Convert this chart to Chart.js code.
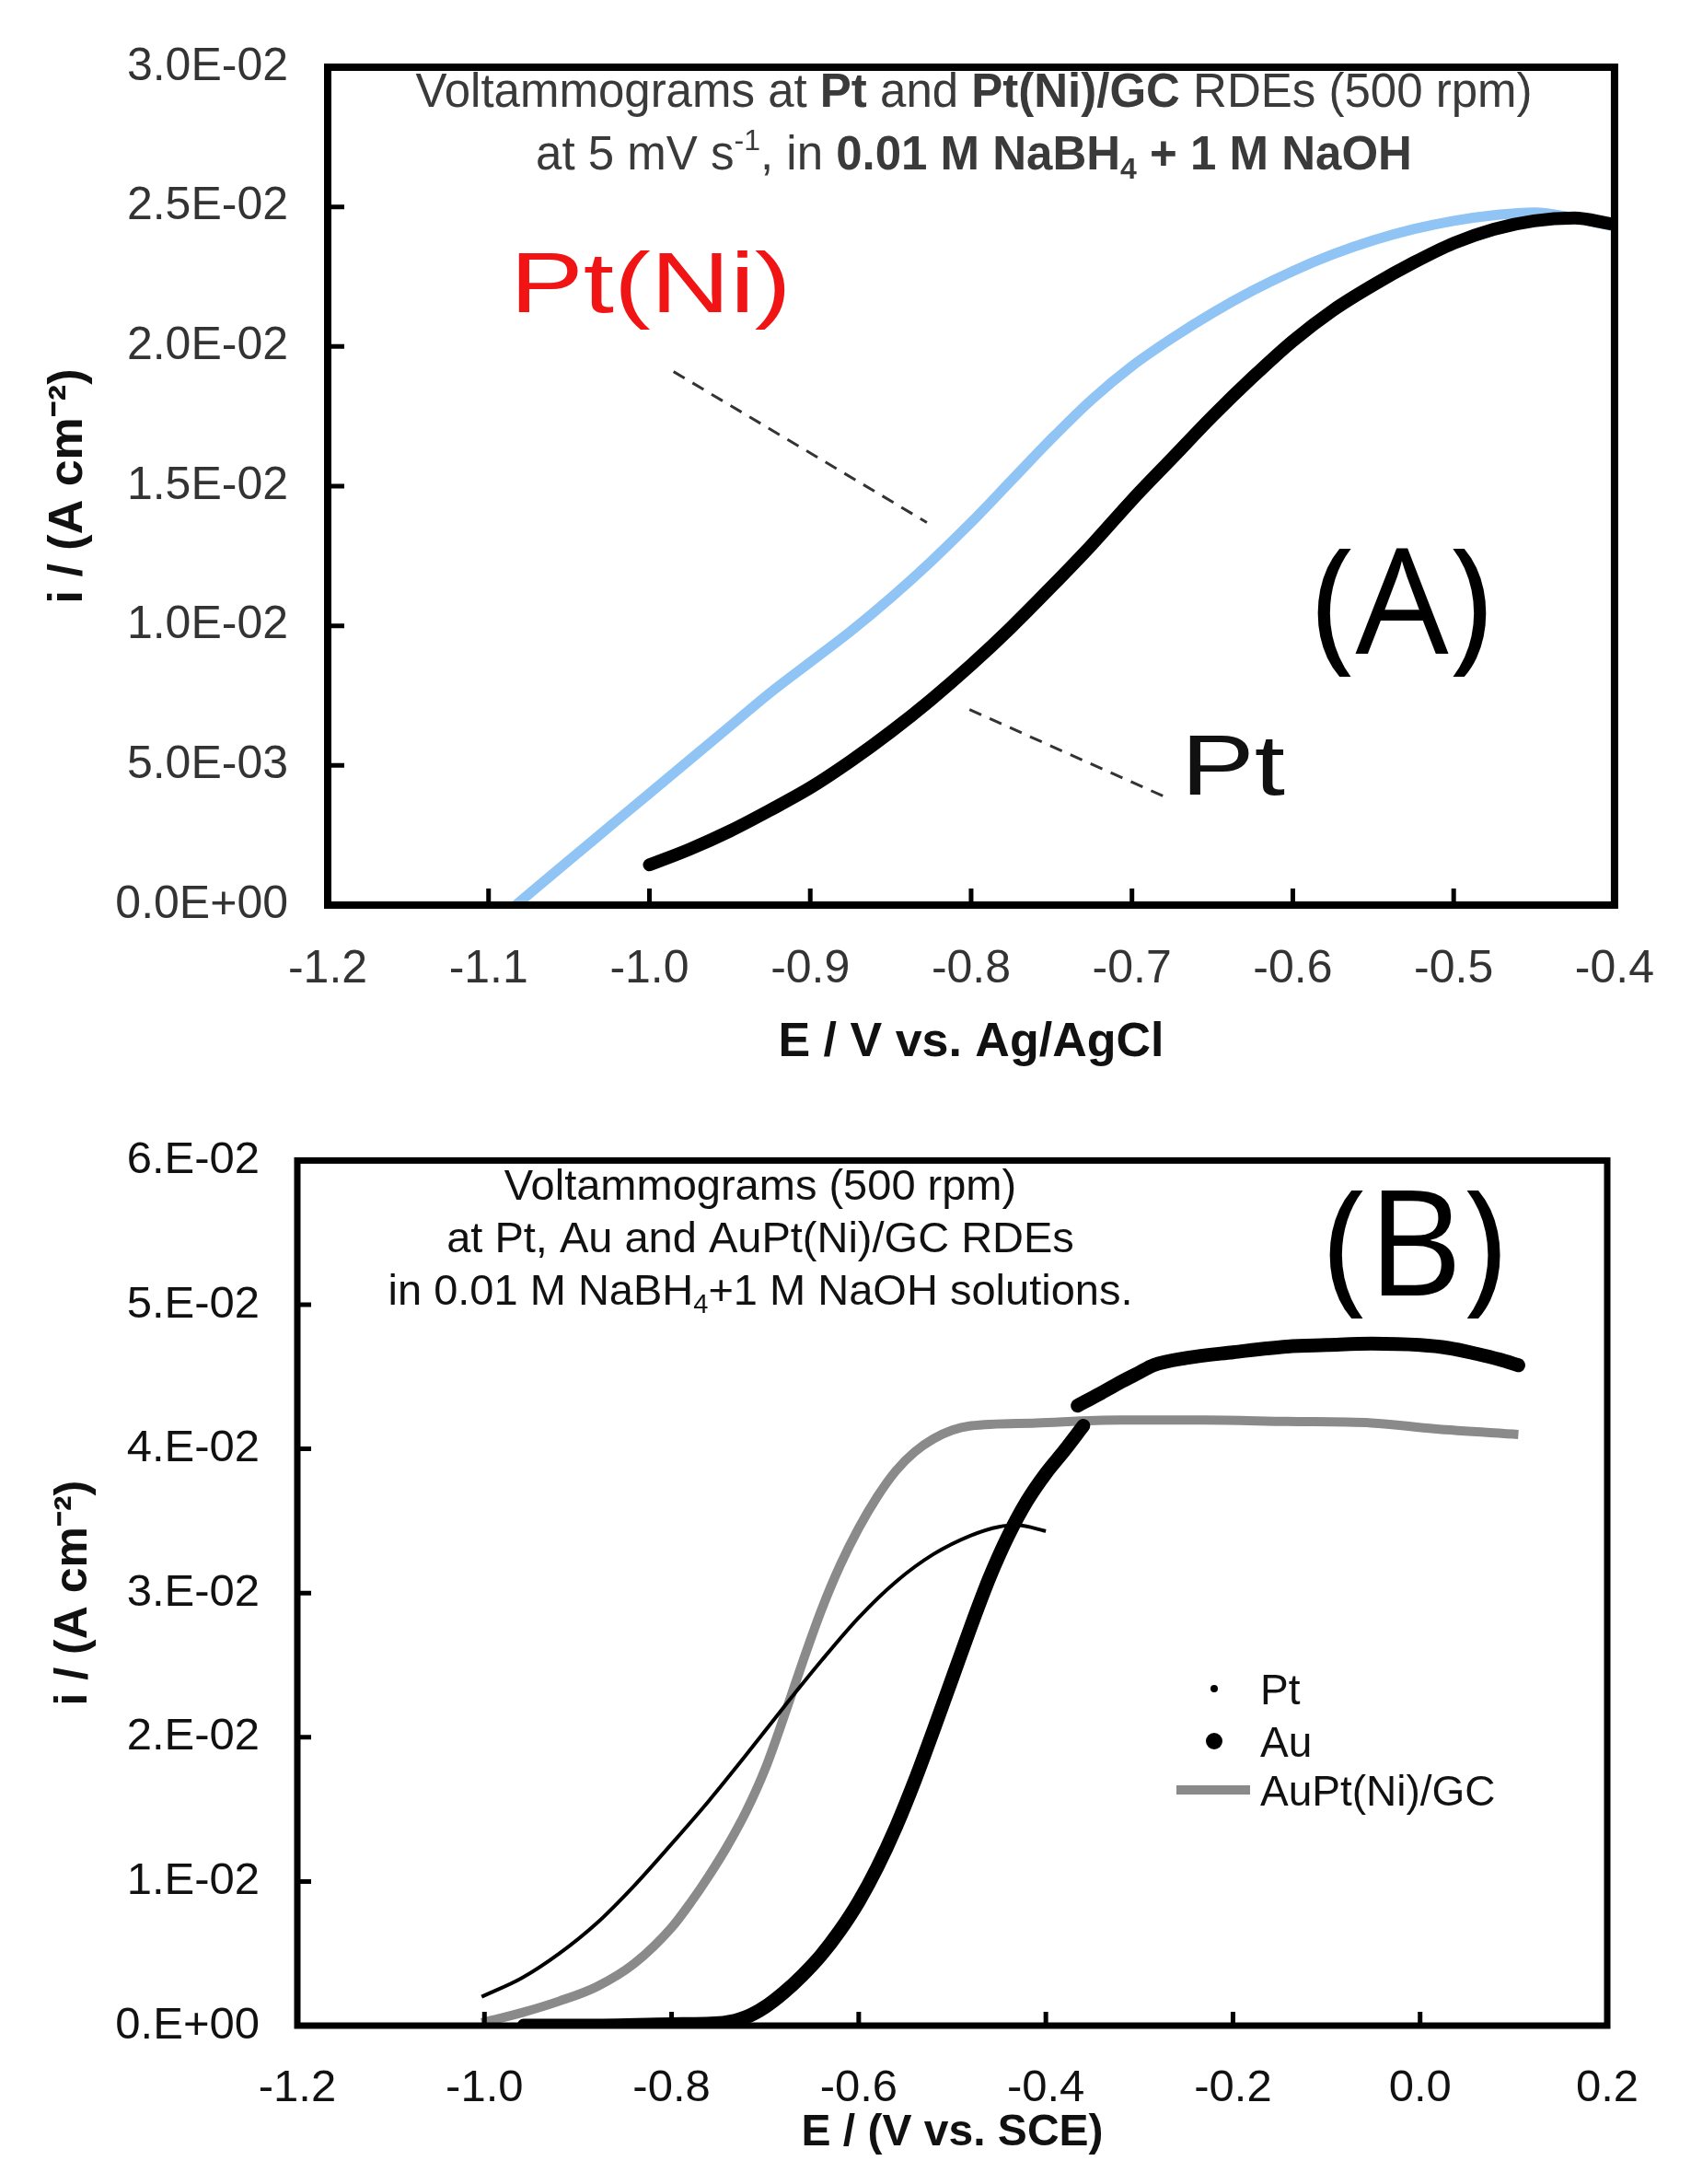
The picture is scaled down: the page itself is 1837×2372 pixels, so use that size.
<!DOCTYPE html>
<html>
<head>
<meta charset="utf-8">
<script src="https://cdn.jsdelivr.net/npm/chart.js@4.4.1/dist/chart.umd.min.js"></script>
<style>
  html, body { margin: 0; padding: 0; background: #fff; }
  #wrapA { position: absolute; left: 0; top: 0; width: 1837px; height: 1190px; }
  #wrapB { position: absolute; left: 0; top: 1190px; width: 1837px; height: 1182px; }
</style>
</head>
<body>
<div id="wrapA"><canvas id="chartA"></canvas></div>
<div id="wrapB"><canvas id="chartB"></canvas></div>
<script>
// ---- panel A data (E / V vs Ag/AgCl, i / A cm-2) ----
var xTicksA = [-1.2, -1.1, -1.0, -0.9, -0.8, -0.7, -0.6, -0.5, -0.4];
var xLabelsA = ['-1.2', '-1.1', '-1.0', '-0.9', '-0.8', '-0.7', '-0.6', '-0.5', '-0.4'];
var yTicksA = [0, 0.005, 0.01, 0.015, 0.02, 0.025, 0.03];
var yLabelsA = ['0.0E+00', '5.0E-03', '1.0E-02', '1.5E-02', '2.0E-02', '2.5E-02', '3.0E-02'];

var ptE = [-1.0, -0.975, -0.95, -0.925, -0.9, -0.875, -0.85, -0.825, -0.8, -0.775, -0.75, -0.725, -0.7,
           -0.675, -0.65, -0.625, -0.6, -0.575, -0.55, -0.525, -0.5, -0.475, -0.45, -0.425, -0.403];
var ptI = [0.00144, 0.0020, 0.00265, 0.0034, 0.0042, 0.00515, 0.0062, 0.00735, 0.0086, 0.00995, 0.0114, 0.0129, 0.0145,
           0.0160, 0.0175, 0.0189, 0.0202, 0.0213, 0.0222, 0.0230, 0.0237, 0.0242, 0.0245, 0.0246, 0.0244];

var ptNiE = [-1.083, -1.05, -1.025, -1.0, -0.975, -0.95, -0.925, -0.9, -0.875, -0.85, -0.825, -0.8, -0.775, -0.75,
             -0.725, -0.7, -0.675, -0.65, -0.625, -0.6, -0.575, -0.55, -0.525, -0.5, -0.475, -0.45, -0.425, -0.4];
var ptNiI = [0.0, 0.0016, 0.0028, 0.0040, 0.0052, 0.0064, 0.0076, 0.0087, 0.0098, 0.0110, 0.0123, 0.0137, 0.0152, 0.0167,
             0.0181, 0.0193, 0.0203, 0.0212, 0.0220, 0.0227, 0.0233, 0.0238, 0.0242, 0.0245, 0.0247, 0.0248, 0.0246, 0.0243];

// ---- panel B data (E / V vs SCE) ----
var xTicksB = [-1.2, -1.0, -0.8, -0.6, -0.4, -0.2, 0.0, 0.2];
var xLabelsB = ['-1.2', '-1.0', '-0.8', '-0.6', '-0.4', '-0.2', '0.0', '0.2'];
var yTicksB = [0, 0.01, 0.02, 0.03, 0.04, 0.05, 0.06];
var yLabelsB = ['0.E+00', '1.E-02', '2.E-02', '3.E-02', '4.E-02', '5.E-02', '6.E-02'];

var ptBE = [-1.003, -0.96, -0.92, -0.88, -0.84, -0.80, -0.76, -0.72, -0.68, -0.64, -0.60, -0.56, -0.52,
            -0.48, -0.45, -0.43, -0.40];
var ptBI = [0.0020, 0.0033, 0.0050, 0.0071, 0.0097, 0.0126, 0.0156, 0.0188, 0.0221, 0.0253, 0.0283, 0.0308, 0.0327,
            0.0340, 0.0346, 0.0347, 0.0343];

var auE = [-0.958, -0.90, -0.80, -0.745, -0.72, -0.70, -0.68, -0.66, -0.64, -0.62, -0.60, -0.58, -0.56, -0.54,
           -0.52, -0.50, -0.48, -0.46, -0.44, -0.42, -0.40, -0.38, -0.36, -0.363, -0.366, -0.343, -0.321, -0.30,
           -0.285, -0.25, -0.2, -0.142, -0.1, -0.052, 0.0, 0.03, 0.06, 0.085, 0.105];
var auI = [0.0, 0.0, 0.0001, 0.0002, 0.0006, 0.0013, 0.0023, 0.0035, 0.0049, 0.0066, 0.0086, 0.0110, 0.0138, 0.0170,
           0.0205, 0.0241, 0.0277, 0.0311, 0.0340, 0.0364, 0.0383, 0.0399, 0.0416, null, 0.0430, 0.0438, 0.0446, 0.0453,
           0.0458, 0.0463, 0.0467, 0.0471, 0.0472, 0.0473, 0.0472, 0.0470, 0.0466, 0.0462, 0.0458];

var auPtE = [-1.003, -0.96, -0.92, -0.88, -0.84, -0.80, -0.78, -0.76, -0.74, -0.72, -0.70, -0.68, -0.66, -0.64,
             -0.62, -0.60, -0.58, -0.56, -0.54, -0.52, -0.50, -0.48, -0.41, -0.321, -0.231, -0.142, -0.052, 0.015, 0.105];
var auPtI = [0.0002, 0.0009, 0.0017, 0.0027, 0.0043, 0.0068, 0.0085, 0.0104, 0.0125, 0.0149, 0.0178, 0.0214, 0.0252, 0.0288,
             0.0319, 0.0345, 0.0367, 0.0385, 0.0398, 0.0407, 0.0413, 0.0416, 0.0418, 0.0420, 0.0420, 0.0419, 0.0418, 0.0414, 0.0410];

var SANS = "'Liberation Sans', Arial, sans-serif";
var BIG = "'Open Sans', sans-serif";

function pts(xs, ys) {
    return xs.map(function (x, i) { return { x: x, y: ys[i] }; });
}

// draw a line of text made of runs (bold / superscript / subscript), centred on cx
function drawRuns(ctx, runs, cx, baseline, size, color) {
    var parts = runs.map(function (r) {
        var s = (r.sup || r.sub) ? Math.round(size * 0.62) : size;
        var font = (r.bold ? 'bold ' : '') + s + 'px ' + SANS;
        ctx.font = font;
        return { t: r.t, font: font, w: ctx.measureText(r.t).width,
                 dy: r.sup ? -size * 0.42 : (r.sub ? size * 0.2 : 0) };
    });
    var total = parts.reduce(function (a, p) { return a + p.w; }, 0);
    var x = cx - total / 2;
    ctx.fillStyle = color;
    ctx.textAlign = 'left';
    ctx.textBaseline = 'alphabetic';
    parts.forEach(function (p) {
        ctx.font = p.font;
        ctx.fillText(p.t, x, baseline + p.dy);
        x += p.w;
    });
}

function frame(lineWidth, tickLen) {
    return {
        id: 'frame',
        afterDraw: function (chart) {
            var ctx = chart.ctx, a = chart.chartArea;
            var sx = chart.scales.x, sy = chart.scales.y;
            ctx.save();
            ctx.strokeStyle = '#000';
            ctx.lineWidth = 5;
            ctx.beginPath();
            sx.ticks.forEach(function (t) {
                var px = sx.getPixelForValue(t.value);
                ctx.moveTo(px, a.bottom);
                ctx.lineTo(px, a.bottom - tickLen);
            });
            sy.ticks.forEach(function (t) {
                var py = sy.getPixelForValue(t.value);
                ctx.moveTo(a.left, py);
                ctx.lineTo(a.left + tickLen, py);
            });
            ctx.stroke();
            ctx.lineWidth = lineWidth;
            ctx.strokeRect(a.left, a.top, a.right - a.left, a.bottom - a.top);
            ctx.restore();
        }
    };
}

function stretchedText(ctx, text, x, baseline, size, sx, color) {
    ctx.save();
    ctx.translate(x, baseline);
    ctx.scale(sx, 1);
    ctx.font = size + 'px ' + SANS;
    ctx.fillStyle = color;
    ctx.textAlign = 'left';
    ctx.textBaseline = 'alphabetic';
    ctx.fillText(text, 0, 0);
    ctx.restore();
}

var notesA = {
    id: 'notesA',
    afterDraw: function (chart) {
        var ctx = chart.ctx, sx = chart.scales.x, sy = chart.scales.y;
        ctx.save();
        drawRuns(ctx, [
            { t: 'Voltammograms at ' }, { t: 'Pt', bold: true }, { t: ' and ' },
            { t: 'Pt(Ni)/GC', bold: true }, { t: ' RDEs (500 rpm)' }
        ], 1058, 116, 51, '#3a3a3a');
        drawRuns(ctx, [
            { t: 'at 5 mV s' }, { t: '-1', sup: true }, { t: ', in ' },
            { t: '0.01 M NaBH', bold: true }, { t: '4', bold: true, sub: true },
            { t: ' + 1 M NaOH', bold: true }
        ], 1058, 184, 51, '#3a3a3a');

        // leader lines
        ctx.strokeStyle = '#333';
        ctx.lineWidth = 3;
        ctx.setLineDash([14, 10]);
        ctx.beginPath();
        ctx.moveTo(sx.getPixelForValue(-0.985), sy.getPixelForValue(0.0191));
        ctx.lineTo(sx.getPixelForValue(-0.8275), sy.getPixelForValue(0.0137));
        ctx.moveTo(sx.getPixelForValue(-0.801), sy.getPixelForValue(0.0070));
        ctx.lineTo(sx.getPixelForValue(-0.6805), sy.getPixelForValue(0.0039));
        ctx.stroke();
        ctx.setLineDash([]);

        stretchedText(ctx, 'Pt(Ni)', 554, 339, 92, 1.3, '#f01414');
        stretchedText(ctx, 'Pt', 1283, 863, 92, 1.3, '#111');

        ctx.font = '160px ' + BIG;
        ctx.fillStyle = '#000';
        ctx.textAlign = 'center';
        ctx.textBaseline = 'alphabetic';
        ctx.fillText('(A)', 1523, 710);
        ctx.restore();
    }
};

var notesB = {
    id: 'notesB',
    afterDraw: function (chart) {
        var ctx = chart.ctx;
        var ds = chart.data.datasets;
        ctx.save();
        drawRuns(ctx, [{ t: 'Voltammograms (500 rpm)' }], 826, 113, 47, '#111');
        drawRuns(ctx, [{ t: 'at Pt, Au and AuPt(Ni)/GC RDEs' }], 826, 170, 47, '#111');
        drawRuns(ctx, [
            { t: 'in 0.01 M NaBH' }, { t: '4', sub: true }, { t: '+1 M NaOH solutions.' }
        ], 826, 227, 47, '#111');

        ctx.font = '160px ' + BIG;
        ctx.fillStyle = '#000';
        ctx.textAlign = 'center';
        ctx.textBaseline = 'alphabetic';
        ctx.fillText('(B)', 1537, 217);

        // legend: Pt, Au, AuPt(Ni)/GC
        var pt = ds[1], au = ds[0], aupt = ds[2];
        ctx.fillStyle = pt.borderColor;
        ctx.beginPath(); ctx.arc(1319, 644, 4, 0, Math.PI * 2); ctx.fill();
        ctx.fillStyle = au.borderColor;
        ctx.beginPath(); ctx.arc(1319, 701, 9, 0, Math.PI * 2); ctx.fill();
        ctx.strokeStyle = aupt.borderColor;
        ctx.lineWidth = aupt.borderWidth;
        ctx.beginPath(); ctx.moveTo(1278, 754); ctx.lineTo(1358, 754); ctx.stroke();

        ctx.font = '46px ' + SANS;
        ctx.fillStyle = '#111';
        ctx.textAlign = 'left';
        ctx.fillText(pt.label, 1369, 661);
        ctx.fillText(au.label, 1369, 718);
        ctx.fillText(aupt.label, 1369, 771);
        ctx.restore();
    }
};

function axis(opts) {
    return {
        type: 'linear',
        position: opts.position,
        min: opts.min,
        max: opts.max,
        afterBuildTicks: function (s) { s.ticks = opts.ticks.map(function (v) { return { value: v }; }); },
        afterFit: opts.fit,
        ticks: {
            autoSkip: false,
            maxRotation: 0,
            padding: opts.pad,
            color: opts.color,
            font: { family: SANS, size: opts.size },
            callback: function (v, i) { return opts.labels[i]; }
        },
        grid: { display: false, drawTicks: false },
        border: { display: false },
        title: {
            display: true,
            text: opts.title,
            color: '#111',
            font: { family: SANS, size: opts.titleSize, weight: 'bold' },
            padding: opts.titlePad
        }
    };
}

var common = {
    responsive: true,
    maintainAspectRatio: false,
    animation: false,
    events: [],
    plugins: { legend: { display: false }, tooltip: { enabled: false } }
};

new Chart(document.getElementById('chartA'), {
    type: 'scatter',
    data: {
        datasets: [{
            label: 'Pt',
            data: pts(ptE, ptI),
            showLine: true,
            borderColor: '#000',
            borderWidth: 14,
            borderCapStyle: 'round',
            pointRadius: 0,
            cubicInterpolationMode: 'monotone'
        }, {
            label: 'Pt(Ni)',
            data: pts(ptNiE, ptNiI),
            showLine: true,
            borderColor: '#8fc4f4',
            borderWidth: 11,
            pointRadius: 0,
            cubicInterpolationMode: 'monotone'
        }]
    },
    options: Object.assign({}, common, {
        layout: { padding: { top: 45, right: 55, left: 0, bottom: 0 } },
        scales: {
            x: axis({ position: 'bottom', min: -1.2, max: -0.4, ticks: xTicksA, labels: xLabelsA,
                      pad: 40, size: 50, color: '#333', title: 'E / V vs. Ag/AgCl', titleSize: 52,
                      titlePad: { bottom: 26 }, fit: function (s) { s.height = 207; } }),
            y: axis({ position: 'left', min: 0, max: 0.03, ticks: yTicksA, labels: yLabelsA,
                      pad: 43, size: 50, color: '#333', title: 'i / (A cm\u207B\u00B2)', titleSize: 52,
                      titlePad: { top: 43 }, fit: function (s) { s.width = 356; } })
        }
    }),
    plugins: [frame(8, 18), notesA]
});

new Chart(document.getElementById('chartB'), {
    type: 'scatter',
    data: {
        datasets: [{
            label: 'Au',
            data: pts(auE, auI),
            showLine: true,
            borderColor: '#000',
            borderWidth: 15,
            borderCapStyle: 'round',
            pointRadius: 0,
            cubicInterpolationMode: 'monotone'
        }, {
            label: 'Pt',
            data: pts(ptBE, ptBI),
            showLine: true,
            borderColor: '#000',
            borderWidth: 4,
            pointRadius: 0,
            cubicInterpolationMode: 'monotone'
        }, {
            label: 'AuPt(Ni)/GC',
            data: pts(auPtE, auPtI),
            showLine: true,
            borderColor: '#8a8a8a',
            borderWidth: 10,
            pointRadius: 0,
            cubicInterpolationMode: 'monotone'
        }]
    },
    options: Object.assign({}, common, {
        layout: { padding: { top: 48, right: 91, left: 0, bottom: 0 } },
        scales: {
            x: axis({ position: 'bottom', min: -1.2, max: 0.2, ticks: xTicksB, labels: xLabelsB,
                      pad: 39, size: 49, color: '#111', title: 'E / (V vs. SCE)', titleSize: 48,
                      titlePad: { bottom: 26 }, fit: function (s) { s.height = 172; } }),
            y: axis({ position: 'left', min: 0, max: 0.06, ticks: yTicksB, labels: yLabelsB,
                      pad: 41, size: 49, color: '#111', title: 'i / (A cm\u207B\u00B2)', titleSize: 50,
                      titlePad: { top: 50 }, fit: function (s) { s.width = 323; } })
        }
    }),
    plugins: [frame(7, 15), notesB]
});
</script>
</body>
</html>
